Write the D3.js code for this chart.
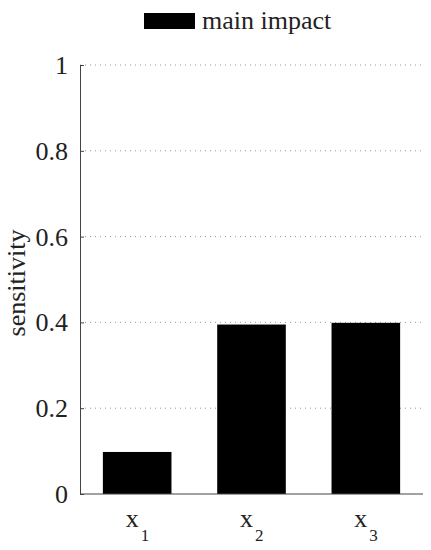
<!DOCTYPE html>
<html>
<head>
<meta charset="utf-8">
<script src="https://cdn.jsdelivr.net/npm/d3@7"></script>
<style>
  body { margin: 0; background: #fff; }
  svg text { font-family: "Liberation Serif", "Times New Roman", "DejaVu Serif", serif !important; fill: #222; }
</style>
</head>
<body>
<div class="chart"></div>
<script>
const categories = ["1", "2", "3"];
const values = [0.098, 0.395, 0.399];
const yTicks = [0, 0.2, 0.4, 0.6, 0.8, 1];
const legendLabel = "main impact";
const yLabel = "sensitivity";

const margin = {left: 80, top: 65, right: 8, bottom: 56};
const width = 431 - margin.left - margin.right;
const height = 550 - margin.top - margin.bottom;

let svg = d3.select('.chart')
  .append('svg')
  .attr('width', 431)
  .attr('height', 550);

let g = svg.append('g')
  .attr('transform', "translate(" + margin.left + "," + margin.top + ")");

let xScale = d3.scaleBand()
  .domain(categories)
  .range([0, width])
  .paddingInner(0.4)
  .paddingOuter(0.2);

let yScale = d3.scaleLinear()
  .domain([0, 1])
  .range([height, 0]);

// grid
g.selectAll('.grid')
  .data(yTicks.filter(d => d > 0))
  .enter()
  .append('line')
  .attr('x1', 0)
  .attr('x2', width)
  .attr('y1', d => yScale(d))
  .attr('y2', d => yScale(d))
  .attr('stroke', '#999')
  .attr('stroke-width', 1)
  .attr('stroke-dasharray', '1,4');

// bars
g.selectAll('rect.bar')
  .data(values)
  .enter()
  .append('rect')
  .attr('class', 'bar')
  .attr('x', (d, i) => xScale(categories[i]))
  .attr('y', d => yScale(d))
  .attr('width', xScale.bandwidth())
  .attr('height', d => height - yScale(d))
  .attr('fill', '#000');

// y axis
let yAxis = d3.axisLeft(yScale)
  .tickValues(yTicks)
  .tickFormat(d => d3.format("")(+d.toFixed(1)))
  .tickSizeInner(-4)
  .tickSizeOuter(0)
  .tickPadding(12);

let ya = g.append('g').call(yAxis);
ya.select('.domain').attr('stroke', '#444');
ya.selectAll('.tick line').attr('stroke', '#444');
ya.selectAll('text')
  .style('font-size', '26px')
  .attr('dy', '0.33em')
  .attr('fill', '#222');

// x axis line
g.append('line')
  .attr('x1', 0)
  .attr('x2', width)
  .attr('y1', height)
  .attr('y2', height)
  .attr('stroke', '#444');

// x labels with subscripts
let xl = g.selectAll('.xlab')
  .data(categories)
  .enter()
  .append('text')
  .attr('x', d => xScale(d) + xScale.bandwidth() / 2 - 11.5)
  .attr('y', height + 33)
  .style('font-size', '26px');
xl.append('tspan').text('x');
xl.append('tspan')
  .attr('dy', 14)
  .attr('dx', 2)
  .style('font-size', '17px')
  .text(d => d);

// y label
svg.append('text')
  .attr('transform', 'translate(25,283) rotate(-90)')
  .attr('text-anchor', 'middle')
  .style('font-size', '26px')
  .text(yLabel);

// legend
svg.append('rect')
  .attr('x', 144)
  .attr('y', 13)
  .attr('width', 51)
  .attr('height', 16)
  .attr('fill', '#000');
svg.append('text')
  .attr('x', 202)
  .attr('y', 29)
  .style('font-size', '26px')
  .text(legendLabel);
</script>
</body>
</html>
